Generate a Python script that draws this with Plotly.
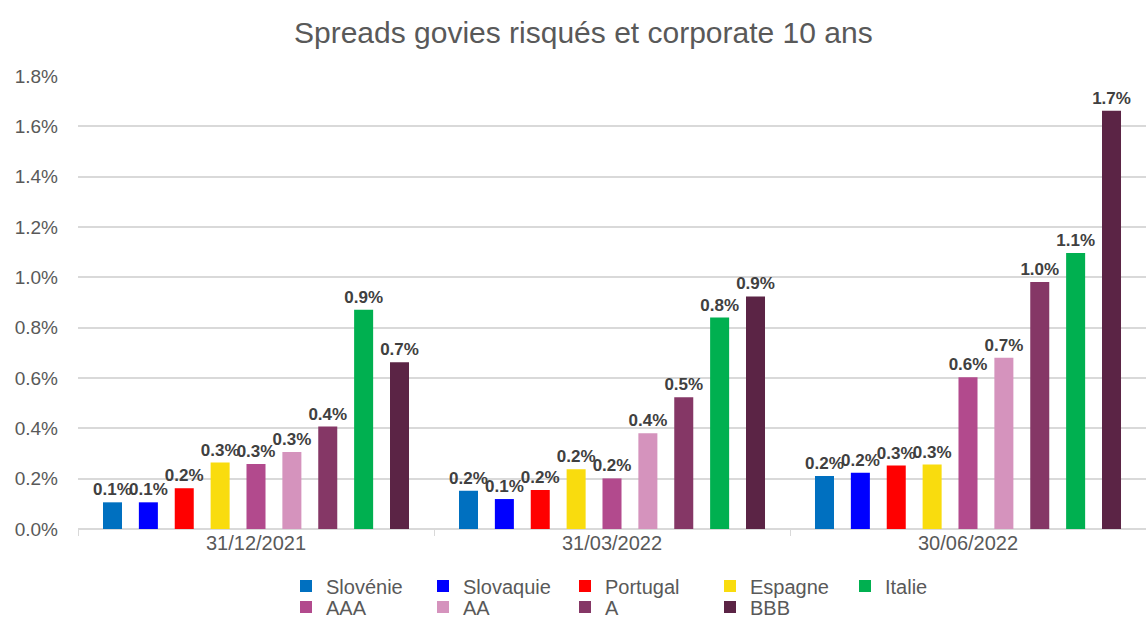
import plotly.graph_objects as go

# Dates d'observation
dates = ["31/12/2021", "31/03/2022", "30/06/2022"]

# Spreads 10 ans (en %) par émetteur / notation
slovenie = [0.106, 0.152, 0.211]
slovaquie = [0.106, 0.119, 0.224]
portugal = [0.162, 0.155, 0.252]
espagne = [0.264, 0.237, 0.256]
aaa = [0.258, 0.201, 0.603]
aa = [0.306, 0.380, 0.680]
a_rating = [0.407, 0.524, 0.981]
italie = [0.871, 0.840, 1.097]
bbb = [0.663, 0.924, 1.662]

y_ticks = [0.0, 0.2, 0.4, 0.6, 0.8, 1.0, 1.2, 1.4, 1.6, 1.8]

# (nom, valeurs, couleur, ligne et colonne de la légende) dans l'ordre des barres
series = [
    ("Slovénie", slovenie, "#0070C0", 0, 0),
    ("Slovaquie", slovaquie, "#0000FF", 0, 1),
    ("Portugal", portugal, "#FF0000", 0, 2),
    ("Espagne", espagne, "#F9DC0E", 0, 3),
    ("AAA", aaa, "#B24A8D", 1, 0),
    ("AA", aa, "#D593BD", 1, 1),
    ("A", a_rating, "#853766", 1, 2),
    ("Italie", italie, "#00B050", 0, 4),
    ("BBB", bbb, "#5B2445", 1, 3),
]

FONT = "Liberation Sans, Arial, sans-serif"
GREY = "#595959"

W, H = 1146, 621
M_L, M_R, M_T, M_B = 78, 0, 76, 92
PLOT_W = W - M_L - M_R
PLOT_H = H - M_T - M_B

# Légende sur deux lignes : position (px) du début du texte de chaque colonne
legend_cols_px = [326, 463, 605, 750, 885]
legend_rows_px = [586, 607]

fig = go.Figure()
layout_legends = {}
for i, (name, vals, color, row, col) in enumerate(series):
    key = "legend" if i == 0 else f"legend{i + 1}"
    fig.add_trace(go.Bar(
        name=name,
        x=dates,
        y=vals,
        marker=dict(color=color, line=dict(width=0)),
        texttemplate="%{y:.1f}%",
        textposition="outside",
        constraintext="none",
        cliponaxis=False,
        textfont=dict(family=FONT, size=17, color="#404040", weight="bold"),
        legend=key,
    ))
    left_px = legend_cols_px[col] - 40
    layout_legends[key] = dict(
        orientation="h",
        x=(left_px - M_L) / PLOT_W, xanchor="left",
        y=(H - M_B - legend_rows_px[row]) / PLOT_H, yanchor="middle",
        font=dict(family=FONT, size=20, color=GREY),
        itemwidth=30,
        bgcolor="rgba(0,0,0,0)",
    )

fig.update_layout(
    width=W,
    height=H,
    barmode="group",
    bargap=0.093,
    bargroupgap=0.47,
    paper_bgcolor="white",
    plot_bgcolor="white",
    margin=dict(l=M_L, r=M_R, t=M_T, b=M_B, autoexpand=False),
    font=dict(family=FONT, color=GREY),
    title=dict(
        text="Spreads govies risqués et corporate 10 ans",
        x=0.509, xanchor="center",
        y=1 - 32 / H, yanchor="middle",
        font=dict(family=FONT, size=30, color=GREY),
    ),
    showlegend=True,
    **layout_legends,
)

fig.update_yaxes(
    range=[0, 1.8],
    tickvals=y_ticks,
    ticktext=[f"{v:.1f}%" for v in y_ticks],
    showgrid=True,
    gridcolor="#D9D9D9",
    gridwidth=2,
    zeroline=True,
    zerolinecolor="#D9D9D9",
    zerolinewidth=2,
    showline=False,
    ticks="",
    tickfont=dict(family=FONT, size=19, color=GREY),
    ticklabelstandoff=19,
)

fig.update_xaxes(
    showgrid=False,
    showline=False,
    ticks="outside",
    tickson="boundaries",
    ticklen=6,
    tickcolor="#D9D9D9",
    tickwidth=1,
    tickfont=dict(family=FONT, size=20, color=GREY),
)

fig.write_html("out.html")
